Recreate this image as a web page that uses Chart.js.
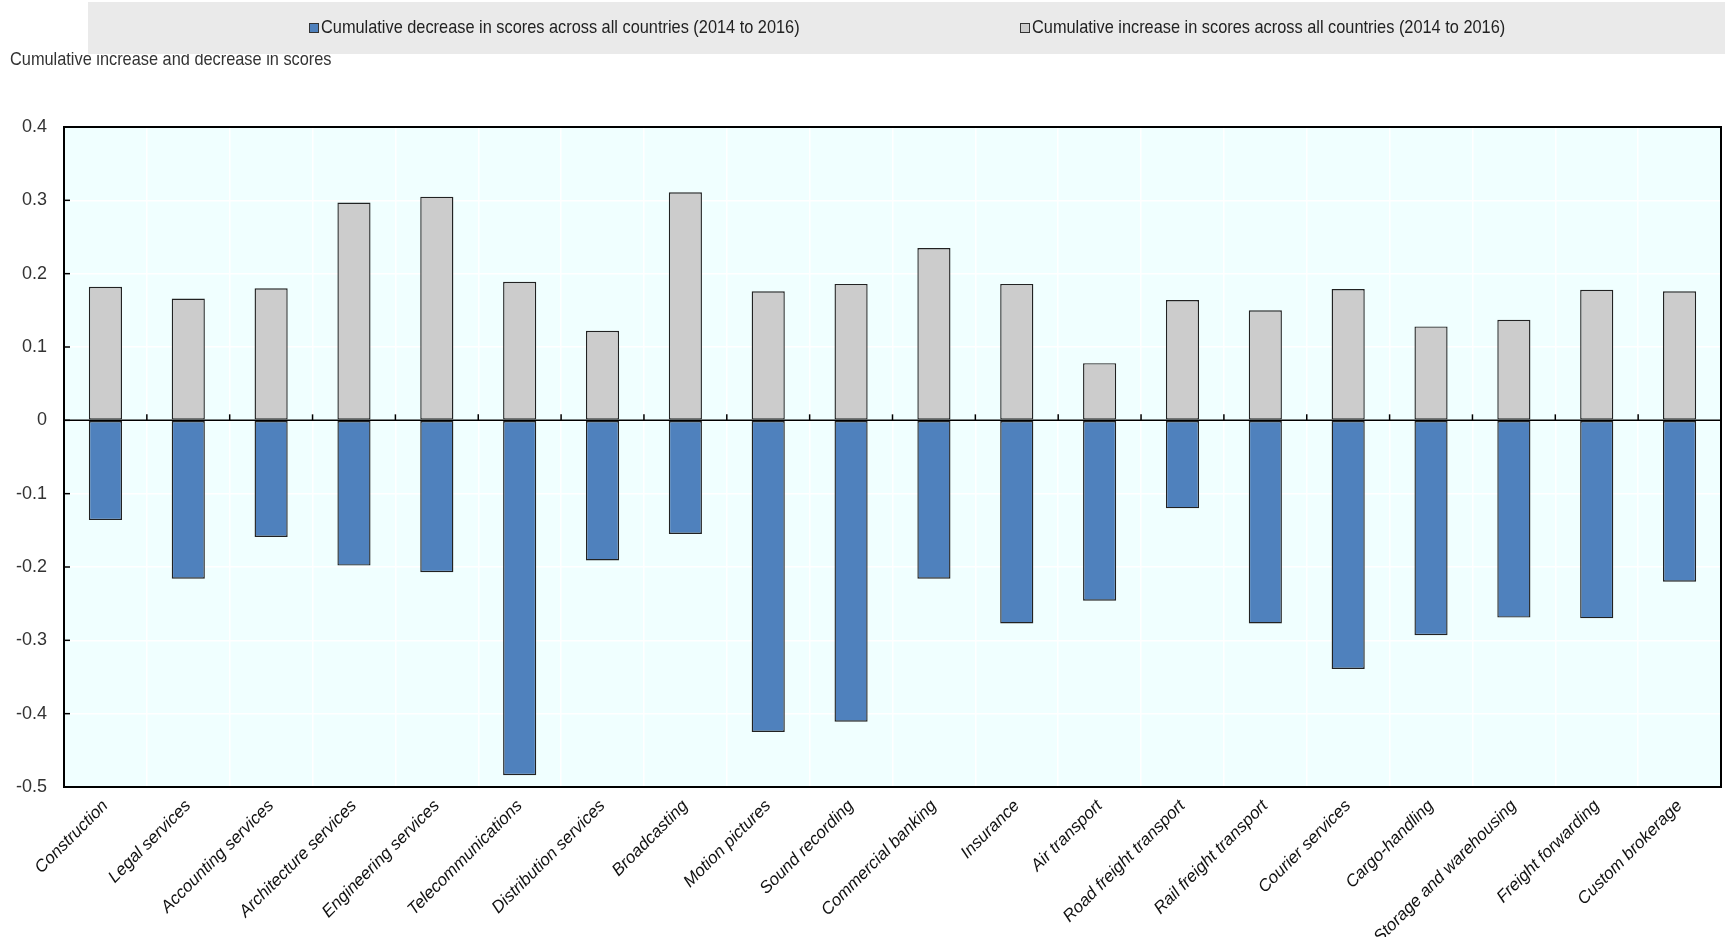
<!DOCTYPE html>
<html>
<head>
<meta charset="utf-8">
<title>Cumulative increase and decrease in scores</title>
<script src="https://cdn.jsdelivr.net/npm/chart.js@4/dist/chart.umd.min.js"></script>
<style>
  html, body { margin: 0; padding: 0; background: #ffffff; }
  #wrap { position: relative; width: 1725px; height: 937px; }
</style>
</head>
<body>
<div id="wrap"><canvas id="scoresChart" width="1725" height="937"></canvas></div>
<script>
'use strict';

const sectors = [
  'Construction', 'Legal services', 'Accounting services', 'Architecture services',
  'Engineering services', 'Telecommunications', 'Distribution services', 'Broadcasting',
  'Motion pictures', 'Sound recording', 'Commercial banking', 'Insurance',
  'Air transport', 'Road freight transport', 'Rail freight transport', 'Courier services',
  'Cargo-handling', 'Storage and warehousing', 'Freight forwarding', 'Custom brokerage'
];

const decreaseScores = [
  -0.136, -0.216, -0.159, -0.198, -0.207, -0.484, -0.191, -0.155, -0.425, -0.411,
  -0.216, -0.277, -0.246, -0.120, -0.277, -0.339, -0.293, -0.269, -0.270, -0.220
];

const increaseScores = [
  0.182, 0.166, 0.180, 0.297, 0.305, 0.189, 0.122, 0.311, 0.176, 0.186,
  0.235, 0.186, 0.078, 0.164, 0.150, 0.179, 0.128, 0.137, 0.178, 0.176
];

const yTicks = [0.4, 0.3, 0.2, 0.1, 0, -0.1, -0.2, -0.3, -0.4, -0.5];

const decreaseLabel = 'Cumulative decrease in scores across all countries (2014 to 2016)';
const increaseLabel = 'Cumulative increase in scores across all countries (2014 to 2016)';
const axisTitle = 'Cumulative increase and decrease in scores';

const narrowFont = "'Liberation Sans Narrow', 'Arial Narrow', 'Liberation Sans', Arial, sans-serif";
const blue = '#4F81BD';
const grey = '#CCCCCC';
const edge = '#222222';

// no condensed face is installed, so squeeze the regular one sideways
function narrowText(ctx, text, x, y, squeeze) {
  ctx.save();
  ctx.translate(x, y);
  ctx.scale(squeeze, 1);
  ctx.fillText(text, 0, 0);
  ctx.restore();
}

// plot background, inner tick marks, frame, title and legend strip
const decorations = {
  id: 'decorations',
  beforeDraw(chart) {
    const ctx = chart.ctx;
    const area = chart.chartArea;
    ctx.save();
    ctx.fillStyle = '#F0FFFF';
    ctx.fillRect(area.left, area.top, area.right - area.left, area.bottom - area.top);
    ctx.restore();
  },
  afterDatasetsDraw(chart) {
    const ctx = chart.ctx;
    const area = chart.chartArea;
    const x = chart.scales.x;
    const y = chart.scales.y;
    const zeroY = y.getPixelForValue(0);

    ctx.save();
    ctx.strokeStyle = '#000000';
    ctx.lineWidth = 1.5;
    ctx.beginPath();
    ctx.moveTo(area.left, zeroY);
    ctx.lineTo(area.right, zeroY);
    ctx.stroke();

    // small marks between categories, sitting on the zero line
    for (let i = 1; i < sectors.length; i++) {
      const px = (x.getPixelForValue(i - 1) + x.getPixelForValue(i)) / 2;
      ctx.beginPath();
      ctx.moveTo(px, zeroY);
      ctx.lineTo(px, zeroY - 6);
      ctx.stroke();
    }
    for (let v of yTicks) {
      const py = y.getPixelForValue(v);
      ctx.beginPath();
      ctx.moveTo(area.left, py);
      ctx.lineTo(area.left + 6, py);
      ctx.stroke();
    }

    ctx.lineWidth = 2;
    ctx.strokeRect(area.left, area.top, area.right - area.left, area.bottom - area.top);
    ctx.restore();
  },
  afterDraw(chart) {
    const ctx = chart.ctx;
    ctx.save();

    ctx.fillStyle = '#333333';
    ctx.font = '19px ' + narrowFont;
    ctx.textBaseline = 'middle';
    ctx.textAlign = 'left';
    narrowText(ctx, axisTitle, 10, 60, 0.86);

    ctx.fillStyle = '#EAEAEA';
    ctx.fillRect(88, 2, 1637, 52);

    const items = [
      { label: decreaseLabel, color: blue, x: 309 },
      { label: increaseLabel, color: grey, x: 1020 }
    ];
    for (let item of items) {
      ctx.fillStyle = item.color;
      ctx.fillRect(item.x, 23, 9, 9);
      ctx.strokeStyle = '#333333';
      ctx.lineWidth = 1;
      ctx.strokeRect(item.x + 0.5, 23.5, 9, 9);
      ctx.fillStyle = '#222222';
      narrowText(ctx, item.label, item.x + 12, 28, 0.86);
    }
    ctx.restore();
  }
};

const ctx = document.getElementById('scoresChart').getContext('2d');

const scoresChart = new Chart(ctx, {
  type: 'bar',
  data: {
    labels: sectors,
    datasets: [{
      label: decreaseLabel,
      data: decreaseScores,
      backgroundColor: blue,
      borderColor: edge,
      borderWidth: 1.4,
      borderSkipped: false
    }, {
      label: increaseLabel,
      data: increaseScores,
      backgroundColor: grey,
      borderColor: edge,
      borderWidth: 1.4,
      borderSkipped: false
    }]
  },
  options: {
    responsive: false,
    animation: false,
    events: [],
    barPercentage: 0.4,
    categoryPercentage: 1.0,
    layout: {
      padding: { top: 127, right: 4, bottom: 0, left: 0 }
    },
    plugins: {
      legend: { display: false },
      tooltip: { enabled: false }
    },
    scales: {
      x: {
        stacked: true,
        border: { display: false },
        grid: {
          color: '#FFFFFF',
          lineWidth: 1.5,
          drawTicks: false
        },
        ticks: {
          maxRotation: 45,
          minRotation: 45,
          autoSkip: false,
          padding: 9,
          color: '#111111',
          font: { family: "'Liberation Sans', Arial, sans-serif", size: 17, style: 'italic' }
        },
        afterFit(scale) {
          scale.height = 150;
        }
      },
      y: {
        stacked: true,
        min: -0.5,
        max: 0.4,
        border: { display: false },
        grid: {
          color: '#FFFFFF',
          lineWidth: 1.5,
          drawTicks: false
        },
        afterBuildTicks(scale) {
          scale.ticks = yTicks.map(v => ({ value: v }));
        },
        ticks: {
          padding: 17,
          color: '#333333',
          font: { family: narrowFont, size: 18 },
          callback: v => String(Math.round(v * 10) / 10)
        },
        afterFit(scale) {
          scale.width = 64;
        }
      }
    }
  },
  plugins: [decorations]
});
</script>
</body>
</html>
